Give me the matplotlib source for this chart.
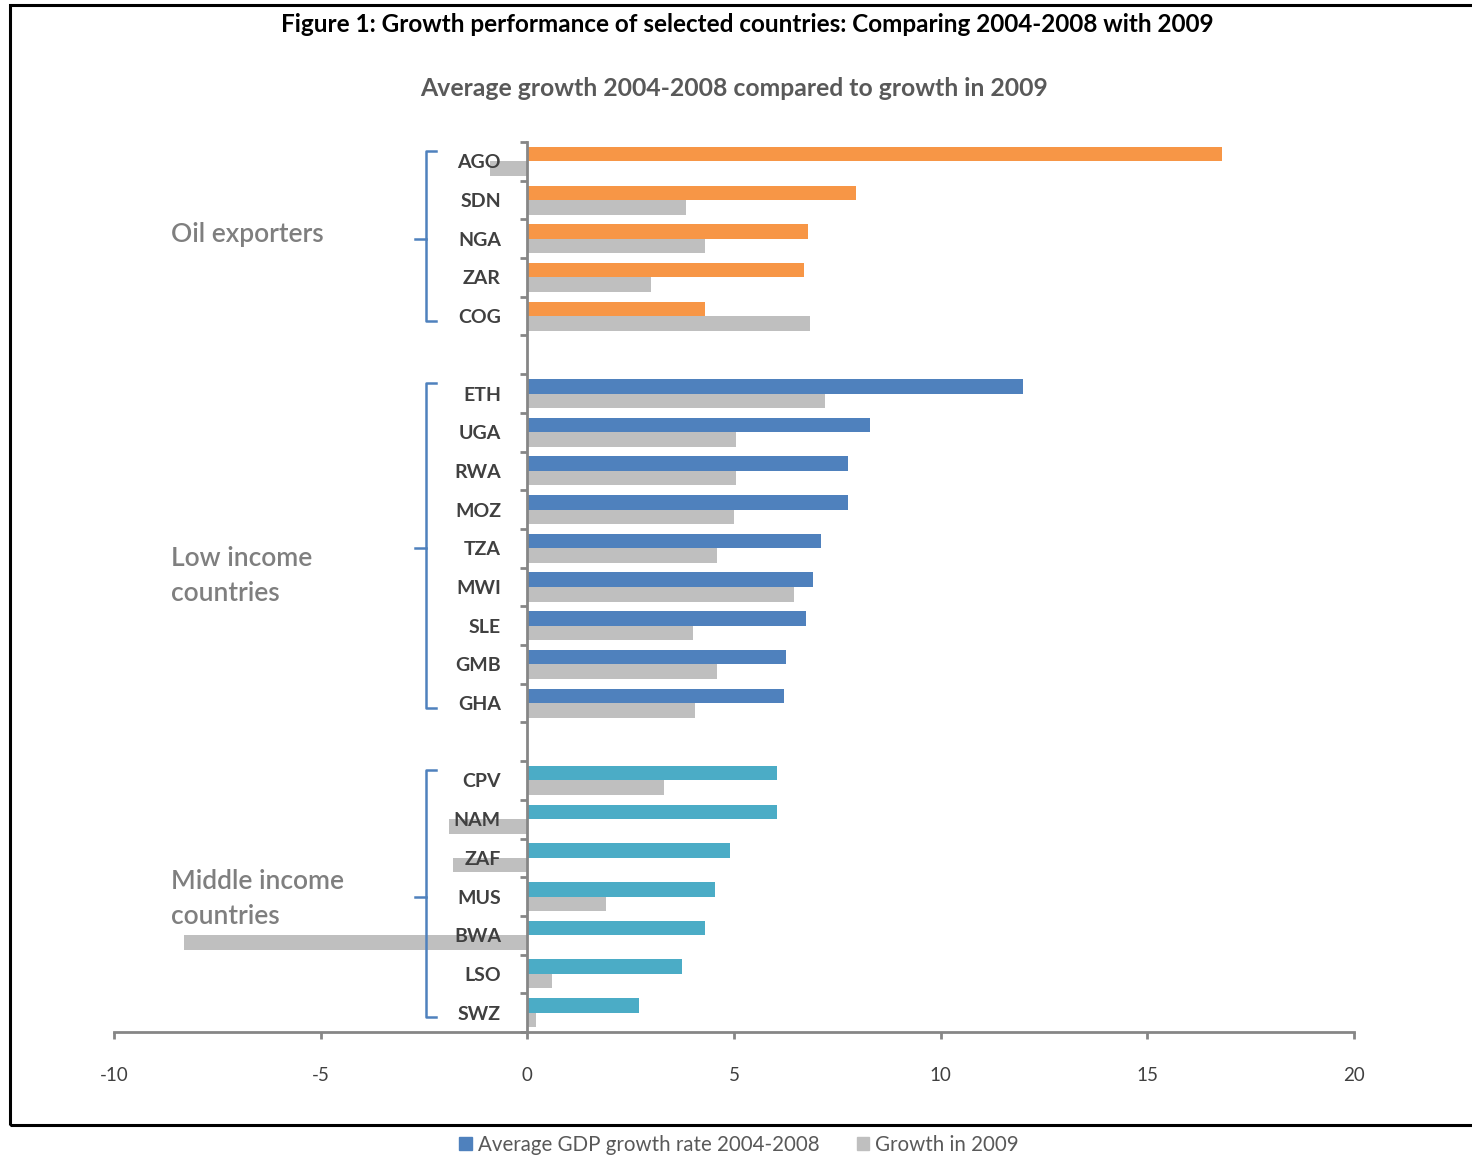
import matplotlib
matplotlib.use("Agg")
import matplotlib.pyplot as plt
from matplotlib.patches import Patch, Rectangle
import numpy as np

plt.rcParams['font.family'] = ['Lato', 'DejaVu Sans']

# data
oil = ["AGO", "SDN", "NGA", "ZAR", "COG"]
oil_avg = [16.8, 7.95, 6.8, 6.7, 4.3]
oil_2009 = [-0.9, 3.85, 4.3, 3.0, 6.85]

low = ["ETH", "UGA", "RWA", "MOZ", "TZA", "MWI", "SLE", "GMB", "GHA"]
low_avg = [12.0, 8.3, 7.75, 7.75, 7.1, 6.9, 6.75, 6.25, 6.2]
low_2009 = [7.2, 5.05, 5.05, 5.0, 4.6, 6.45, 4.0, 4.6, 4.05]

mid = ["CPV", "NAM", "ZAF", "MUS", "BWA", "LSO", "SWZ"]
mid_avg = [6.05, 6.05, 4.9, 4.55, 4.3, 3.75, 2.7]
mid_2009 = [3.3, -1.9, -1.8, 1.9, -8.3, 0.6, 0.2]

group_names = ["Oil exporters", "Low income\ncountries", "Middle income\ncountries"]
group_colors = ["#F79646", "#4F81BD", "#4BACC6"]
gray = "#BFBFBF"
axis_gray = "#868686"
text_dark = "#404040"

# vertical placement of the group names, relative to the group's middle slot
name_shift = [-0.12, 0.72, 0.07]

groups = [(oil, oil_avg, oil_2009), (low, low_avg, low_2009), (mid, mid_avg, mid_2009)]

fig = plt.figure(figsize=(14.72, 11.57), dpi=100)
ax = fig.add_axes([114 / 1472, 1 - 1032 / 1157, (1354 - 114) / 1472, (1032 - 142) / 1157])

# spines first: moving a spine resets the ticks
for s in ['top', 'right']:
    ax.spines[s].set_visible(False)
ax.spines['left'].set_position(('data', 0))
ax.spines['left'].set_color(axis_gray)
ax.spines['left'].set_linewidth(2)
ax.spines['bottom'].set_color(axis_gray)
ax.spines['bottom'].set_linewidth(2)
ax.set_facecolor('none')

h = 0.375
labels, positions = [], []
pos = 0
for gi, (names, avg, g09) in enumerate(groups):
    y = np.arange(len(names)) + pos
    ax.barh(y - h / 2, avg, height=h, color=group_colors[gi], zorder=1)
    ax.barh(y + h / 2, g09, height=h, color=gray, zorder=1)
    labels += names
    positions += list(y)

    # bracket
    top, bot = y[0] - 0.28, y[-1] + 0.12
    mid_y = (y[0] + y[-1]) / 2
    bx, sx, tx = -2.45, -2.22, -2.72
    ax.plot([sx, bx, bx, sx], [top, top, bot, bot], color="#4F81BD", lw=1.8,
            solid_joinstyle='round', zorder=3)
    ax.plot([tx, bx], [mid_y, mid_y], color="#4F81BD", lw=1.8, zorder=3)

    ax.text(-8.62, mid_y + name_shift[gi], group_names[gi], color="#7F7F7F", fontsize=19,
            fontweight='semibold', ha='left', va='center', linespacing=1.5, zorder=3)
    pos += len(names) + 1

n_slots = pos - 1
ax.set_ylim(n_slots - 0.5, -0.5)
ax.set_xlim(-10, 20)

ax.set_xticks([-10, -5, 0, 5, 10, 15, 20])
ax.set_xticklabels(["-10", "-5", "0", "5", "10", "15", "20"])
ax.tick_params(axis='x', length=5, width=2, color=axis_gray, labelsize=13.5,
               labelcolor=text_dark, pad=20)

ax.set_yticks(np.arange(-0.5, n_slots, 1.0), minor=True)
ax.tick_params(axis='y', which='minor', length=5, width=2, color=axis_gray, direction='out')
ax.tick_params(axis='y', which='major', length=0, pad=19, labelsize=14, labelcolor=text_dark)
ax.set_yticks(positions, labels, fontweight='bold', va='center_baseline')

# titles
fig.text(747 / 1472, 1 - 25 / 1157, "Figure 1: Growth performance of selected countries: Comparing 2004-2008 with 2009",
         ha='center', va='center', fontsize=17.5, fontweight='bold', color='black')
fig.text(734 / 1472, 1 - 88 / 1157, "Average growth 2004-2008 compared to growth in 2009",
         ha='center', va='center', fontsize=17.8, fontweight='bold', color="#595959")

# outer frame
fig.patches.append(Rectangle((10 / 1472, 1 - 1125 / 1157), 1.0, (1125 - 5) / 1157,
                             transform=fig.transFigure, fill=False, edgecolor='black', lw=2.2))

handles = [Patch(color="#4F81BD"), Patch(color=gray)]
leg = fig.legend(handles, ["Average GDP growth rate 2004-2008", "Growth in 2009"],
                 loc='center', bbox_to_anchor=(739 / 1472, 1 - 1145 / 1157), ncol=2,
                 frameon=False, fontsize=14.8, handlelength=0.6, handleheight=0.6,
                 handletextpad=0.3, columnspacing=1.8)
for t in leg.get_texts():
    t.set_color("#595959")

fig.savefig("out.png", dpi=100)
